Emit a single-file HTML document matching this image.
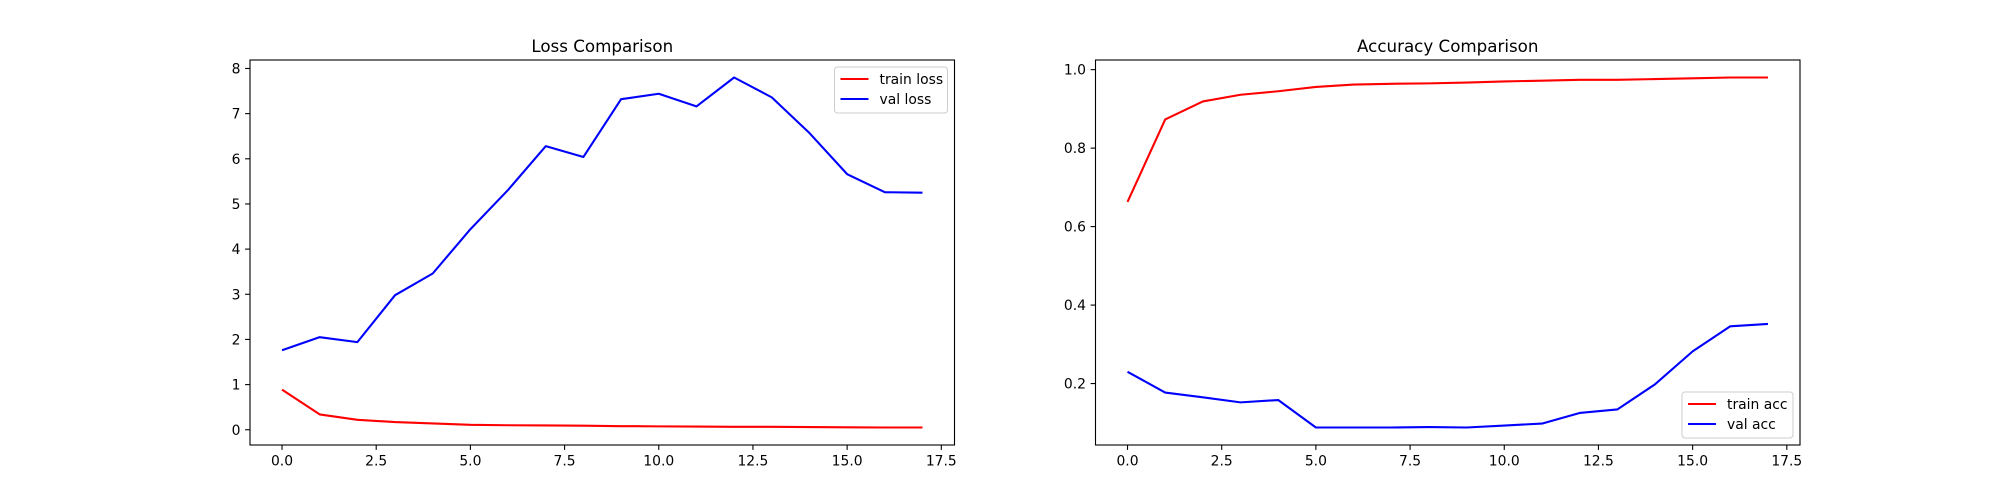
<!DOCTYPE html>
<html><head><meta charset="utf-8"><style>
body{margin:0;background:#fff;}
svg{display:block;font-family:"DejaVu Sans","Liberation Sans",sans-serif;}
</style></head><body>
<svg id="fig" width="2000" height="500" viewBox="0 0 2000 500"></svg>
<script>
const epochs=[0,1,2,3,4,5,6,7,8,9,10,11,12,13,14,15,16,17];
const trainLoss=[0.89,0.34,0.22,0.17,0.14,0.11,0.10,0.095,0.09,0.08,0.075,0.07,0.065,0.065,0.06,0.055,0.05,0.05];
const valLoss=[1.76,2.05,1.94,2.98,3.46,4.44,5.31,6.28,6.04,7.32,7.44,7.16,7.80,7.36,6.57,5.66,5.26,5.25];
const trainAcc=[0.663,0.873,0.919,0.936,0.945,0.956,0.962,0.964,0.965,0.967,0.970,0.972,0.974,0.974,0.976,0.978,0.980,0.980];
const valAcc=[0.230,0.177,0.165,0.152,0.158,0.088,0.088,0.088,0.089,0.088,0.093,0.098,0.125,0.134,0.198,0.282,0.346,0.352];
const xTicks=[0,2.5,5,7.5,10,12.5,15,17.5];
const xTickLabels=["0.0","2.5","5.0","7.5","10.0","12.5","15.0","17.5"];
const lossTicks=[0,1,2,3,4,5,6,7,8];
const lossTickLabels=["0","1","2","3","4","5","6","7","8"];
const accTicks=[0.2,0.4,0.6,0.8,1.0];
const accTickLabels=["0.2","0.4","0.6","0.8","1.0"];

const NS="http://www.w3.org/2000/svg";
const svg=document.getElementById('fig');
function mk(tag,attrs,parent){const e=document.createElementNS(NS,tag);for(const k in attrs)e.setAttribute(k,attrs[k]);(parent||svg).appendChild(e);return e;}

function drawChart(cfg){
  const L=cfg.left,R=cfg.left+704.5,T=60,B=445;
  const g=mk('g',{});
  
  
  const xmin=Math.min(...epochs),xmax=Math.max(...epochs),xp=(xmax-xmin)*0.05;
  const all=cfg.series.flatMap(s=>s.data);
  const ymin=Math.min(...all),ymax=Math.max(...all),yp=(ymax-ymin)*0.05;
  const x0=xmin-xp,x1=xmax+xp,y0=ymin-yp,y1=ymax+yp;
  const sx=v=>L+(v-x0)/(x1-x0)*(R-L);
  const sy=v=>B-(v-y0)/(y1-y0)*(B-T);
  const t=mk('text',{x:(L+R)/2,y:T-8,'text-anchor':'middle','font-size':'16.7'},g);
  t.textContent=cfg.title;
  
  
  xTicks.forEach((v,i)=>{
    const x=sx(v);
    const tk=mk('line',{x1:x,x2:x,y1:B,y2:B+4.9,stroke:'#000','stroke-width':1.1},g);
    
    
    const lb=mk('text',{x:x,y:B+20.5,'text-anchor':'middle','font-size':'13.9'},g);
    lb.textContent=xTickLabels[i];
    
    
  });
  cfg.yTicks.forEach((v,i)=>{
    const y=sy(v);
    const tk=mk('line',{x1:L-4.9,x2:L,y1:y,y2:y,stroke:'#000','stroke-width':1.1},g);
    
    
    const lb=mk('text',{x:L-9.5,y:y+5,'text-anchor':'end','font-size':'13.9'},g);
    lb.textContent=cfg.yLabels[i];
    
    
  });
  cfg.series.forEach(s=>{
    const p=mk('polyline',{points:s.data.map((v,i)=>sx(epochs[i])+','+sy(v)).join(' '),fill:'none',stroke:s.color,'stroke-width':2.1,'stroke-linejoin':'round'},g);
    
    
  });
  const fr=mk('rect',{x:L,y:T,width:R-L,height:B-T,fill:'none',stroke:'#000','stroke-width':1.1},g);
  
  
  // legend
  const lw=cfg.legendW,lh=46;
  const lx=R-7-lw,ly=cfg.legendPos==='upper'?T+7:B-7-lh;
  const lg=mk('g',{},g);
  
  
  mk('rect',{x:lx,y:ly,width:lw,height:lh,rx:3,fill:'#fff','fill-opacity':0.8,stroke:'#ccc','stroke-width':1},lg);
  cfg.series.forEach((s,i)=>{
    const yy=ly+12+i*20;
    const e=mk('g',{},lg);
    
    
    mk('line',{x1:lx+6,x2:lx+34,y1:yy,y2:yy,stroke:s.color,'stroke-width':2.1},e);
    const tx=mk('text',{x:lx+45,y:yy+5,'font-size':'13.9'},e);
    tx.textContent=s.label;
  });
}
drawChart({name:'loss-chart',title:'Loss Comparison',left:250,yTicks:lossTicks,yLabels:lossTickLabels,legendPos:'upper',legendW:113,
  series:[{key:'train-loss-line',label:'train loss',data:trainLoss,color:'#ff0000'},{key:'val-loss-line',label:'val loss',data:valLoss,color:'#0000ff'}]});
drawChart({name:'accuracy-chart',title:'Accuracy Comparison',left:1095.5,yTicks:accTicks,yLabels:accTickLabels,legendPos:'lower',legendW:111,
  series:[{key:'train-acc-line',label:'train acc',data:trainAcc,color:'#ff0000'},{key:'val-acc-line',label:'val acc',data:valAcc,color:'#0000ff'}]});
</script>
</body></html>
